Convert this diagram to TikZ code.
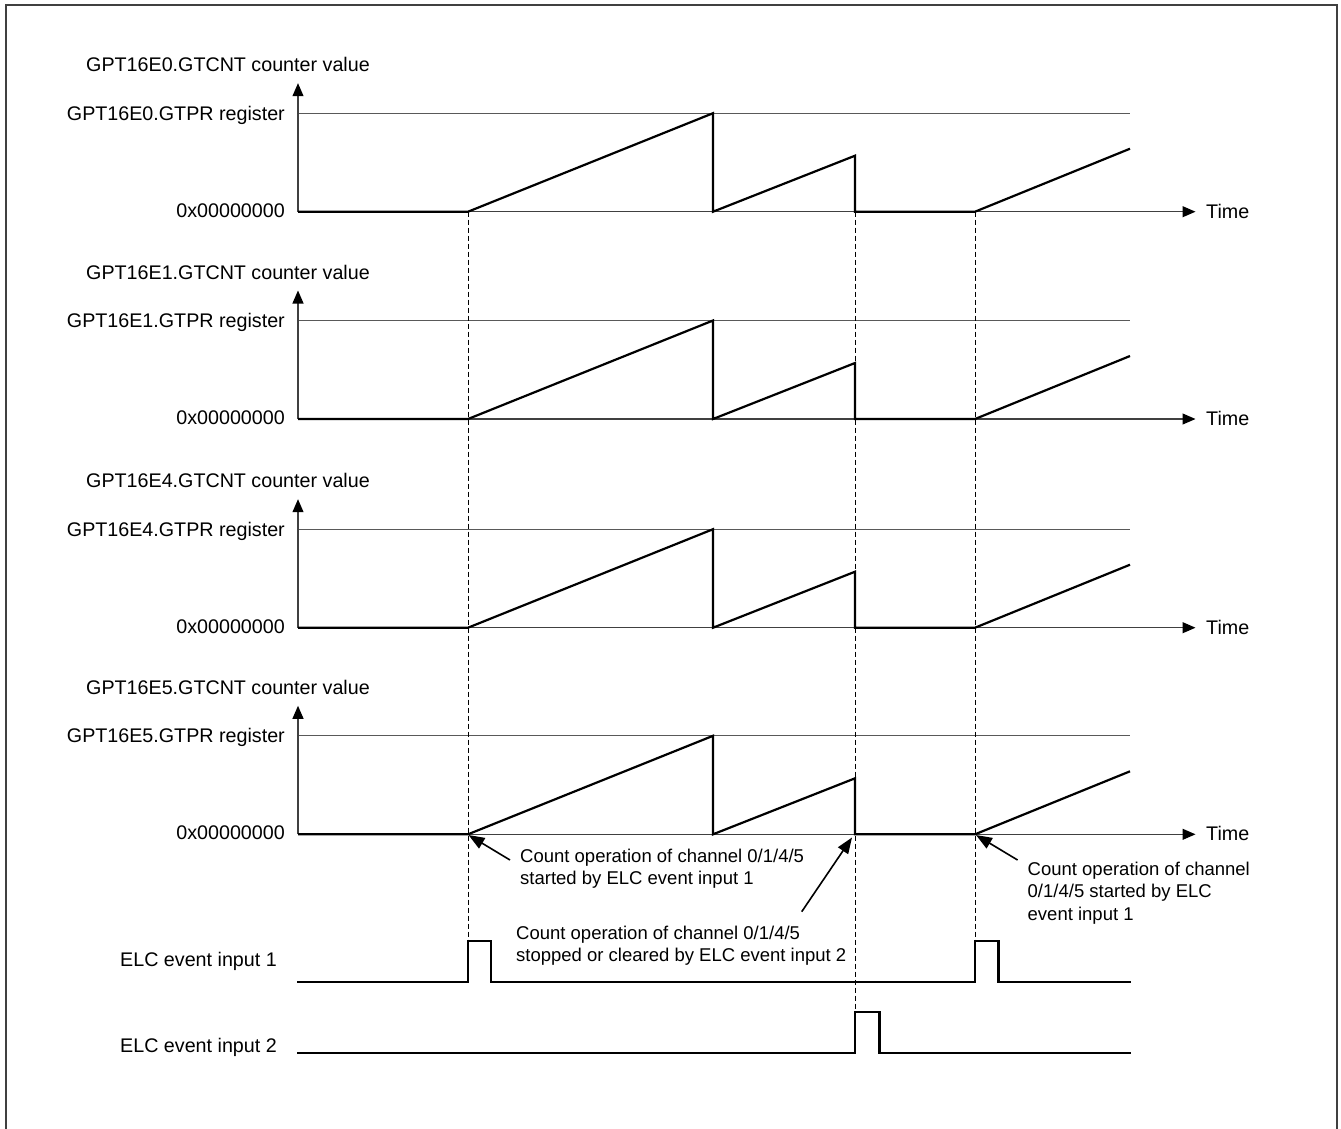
\documentclass[tikz,border=0pt]{standalone}
\usepackage{fontspec}
\setmainfont{Liberation Sans}
\usetikzlibrary{arrows.meta}
\begin{document}
\begin{tikzpicture}[x=1pt,y=-1pt,
  lbl/.style={inner sep=0pt, font=\fontsize{19.7}{23}\selectfont},
  ann/.style={inner sep=0pt, align=left, anchor=north west, font=\fontsize{18.5}{22.7}\selectfont},
  thinln/.style={line width=1.1pt, draw=black!65},
  axline/.style={line width=1.1pt, draw=black!75, -{Triangle[length=13pt,width=11pt,color=black]}},
  wave/.style={line width=2.2pt, line join=miter, line cap=butt},
  guide/.style={line width=0.9pt, dash pattern=on 5pt off 3pt},
  annarrow/.style={line width=1.6pt, -{Triangle[length=16pt,width=12pt]}}]
\useasboundingbox (0,0) rectangle (1341,1128);
\draw[line width=2pt, draw=black!75] (6,5) rectangle (1337,1140);

\foreach \i/\n/\z in {0/0/211.7,1/1/419,2/4/627.7,3/5/834.3}{
  \coordinate (o\i) at (298,\z);
  \coordinate (top\i) at (298,\z-128.5);
  \coordinate (tend\i) at (1195.5,\z);
  \coordinate (pr\i) at (298,\z-98.5);
  \coordinate (prend\i) at (1130,\z-98.5);
  \node[lbl, anchor=base west] (title\i) at (86,\z-140) {GPT16E\n.GTCNT counter value};
  \node[lbl, anchor=base east] (gtpr\i) at (285,\z-91.5) {GPT16E\n.GTPR register};
  \node[lbl, anchor=base east] (zero\i) at (285,\z+5.5) {0x00000000};
  \node[lbl, anchor=base west] (time\i) at (1206,\z+6.4) {Time};
  \draw[thinln] (pr\i) -- (prend\i);
  \draw[axline] (o\i) -- (tend\i);
  \draw[axline] (o\i) -- (top\i);
  \draw[wave] (o\i) -- (468,\z) -- (713,\z-98.5) -- (713,\z) -- (855,\z-56) -- (855,\z) -- (975,\z) -- (1130,\z-63);
}

% event guides
\coordinate (s1) at (468,211.7);
\coordinate (s2) at (855,211.7);
\coordinate (s3) at (975,211.7);
\coordinate (p1) at (468,941);
\coordinate (p2) at (855,1011.7);
\coordinate (p3) at (975,941);
\draw[guide] (s1) -- (p1);
\draw[guide] (s2) -- (p2);
\draw[guide] (s3) -- (p3);

% ELC event inputs
\node[lbl, anchor=base west] (elc1) at (120,966) {ELC event input 1};
\node[lbl, anchor=base west] (elc2) at (120,1052.7) {ELC event input 2};
\draw[wave] (297,982) -- (468,982) -- (p1) -- (491,941) -- (491,982) -- (975,982) -- (p3) -- (998.5,941) -- (998.5,982) -- (1131,982);
\draw[wave] (297,1053.3) -- (855,1053.3) -- (p2) -- (879.5,1011.7) -- (879.5,1053.3) -- (1131,1053.3);

% annotations
\node[ann] (a1) at (520,848.5) {Count operation of channel 0/1/4/5\\started by ELC event input 1};
\node[ann] (a2) at (516,925.5) {Count operation of channel 0/1/4/5\\stopped or cleared by ELC event input 2};
\node[ann] (a3) at (1027.5,861.5) {Count operation of channel\\0/1/4/5 started by ELC\\event input 1};
\coordinate (a1s) at (510,860);
\coordinate (a1e) at (468.5,835);
\coordinate (a2s) at (801.7,911.7);
\coordinate (a2e) at (852,837.5);
\coordinate (a3s) at (1017.6,860);
\coordinate (a3e) at (976,835);
\draw[annarrow] (a1s) -- (a1e);
\draw[annarrow] (a2s) -- (a2e);
\draw[annarrow] (a3s) -- (a3e);
\end{tikzpicture}
\end{document}
